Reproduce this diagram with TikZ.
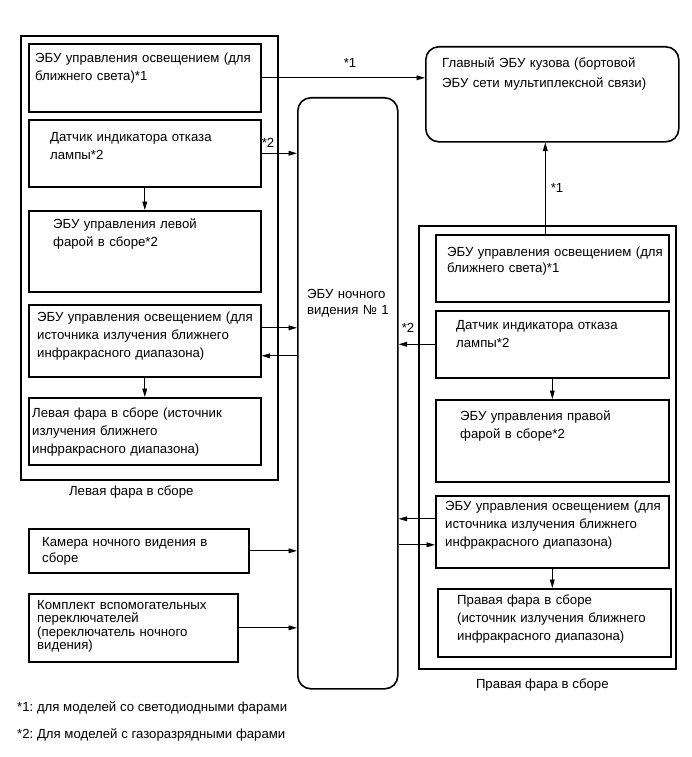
\documentclass[tikz,border=0pt]{standalone}
\usepackage{fontspec}
\setmainfont{Liberation Sans}
\usetikzlibrary{arrows.meta,positioning,calc}
\tikzset{
  frameln/.style={draw, line width=1.6pt, anchor=north west, inner sep=0pt},
  unitbox/.style={draw, line width=1.6pt, anchor=north west, inner sep=0pt},
  ecubox/.style={unitbox, rounded corners=13pt},
  boxtext/.style={anchor=base west, inner sep=0pt, text width=232pt, align=left, font=\boxfont},
  sigln/.style={-{Triangle[length=8.5pt,width=4.8pt]}, line width=0.9pt},
  tagtext/.style={inner sep=0pt, font=\boxfont},
}
\newcommand{\boxfont}{\fontsize{13.2}{18}\selectfont\frenchspacing}
\newcommand{\unitnode}[6]{% name, corner, width, height, text offset, text
  \node[unitbox, minimum width=#3, minimum height=#4] (#1) at (#2) {};
  \node[boxtext] (#1txt) at ([shift={(#5)}]#1.north west) {#6};
}

\begin{document}
\begin{tikzpicture}[x=1pt, y=-1pt]
  \useasboundingbox (0,0) rectangle (691,757);
  % headlamp assemblies
  \node[frameln, minimum width=257pt, minimum height=444pt] (lframe) at (20,35) {};
  \node[frameln, minimum width=257pt, minimum height=443pt] (rframe) at (418,225) {};
  \node[tagtext, below=5pt of lframe, xshift=-18pt] (lframelbl) {Левая фара в сборе};
  \node[tagtext, below=9pt of rframe, xshift=-5pt] (rframelbl) {Правая фара в сборе};
  % left side
  \unitnode{lled}{28,43}{232pt}{68pt}{7,20}{ЭБУ управления освещением (для\\ближнего света)*1}
  \unitnode{lsens}{28,119}{232pt}{67pt}{22,22}{Датчик индикатора отказа\\лампы*2}
  \unitnode{llvl}{28,210}{232pt}{81pt}{25,18.5}{ЭБУ управления левой\\фарой в сборе*2}
  \unitnode{lir}{28,304}{232pt}{72pt}{9,17.5}{ЭБУ управления освещением (для\\источника излучения ближнего\\инфракрасного диапазона)}
  \unitnode{llamp}{28,397}{232pt}{67pt}{4,20.5}{Левая фара в сборе (источник\\излучения ближнего\\инфракрасного диапазона)}
  % right side
  \unitnode{rled}{435,234}{233pt}{67pt}{12,22.5}{ЭБУ управления освещением (для\\[-2pt]ближнего света)*1}
  \unitnode{rsens}{435,310}{233pt}{67pt}{21,19.5}{Датчик индикатора отказа\\лампы*2}
  \unitnode{rlvl}{435,399}{233pt}{82pt}{25,21.5}{ЭБУ управления правой\\фарой в сборе*2}
  \unitnode{rir}{435,495}{233pt}{72pt}{10,15.5}{ЭБУ управления освещением (для\\источника излучения ближнего\\инфракрасного диапазона)}
  \unitnode{rlamp}{437,588}{233pt}{68pt}{20,16.5}{Правая фара в сборе\\(источник излучения ближнего\\инфракрасного диапазона)}
  % inputs
  \unitnode{cam}{28,528}{220pt}{44pt}{14,18.5}{Камера ночного видения в\\[-2.3pt]сборе}
  \unitnode{sw}{28,593}{209pt}{68pt}{9,16.5}{Комплект вспомогательных\\[-4.7pt]переключателей\\[-4.7pt](переключатель ночного\\[-4.7pt]видения)}
  % ECUs
  \node[ecubox, minimum width=100pt, minimum height=591pt] (nv) at (297,97) {};
  \node[boxtext] (nvtxt) at ([shift={(10,201)}]nv.north west) {ЭБУ ночного\\[-2pt]видения № 1};
  \node[ecubox, minimum width=253pt, minimum height=95pt] (body) at (425,46) {};
  \node[boxtext] (bodytxt) at ([shift={(17,21.5)}]body.north west) {Главный ЭБУ кузова (бортовой\\[2pt]ЭБУ сети мультиплексной связи)};
  % signals
  \draw[sigln] (lled.east) -- (lled.east -| body.west);
  \draw[sigln] (lsens.east) -- (lsens.east -| nv.west);
  \draw[sigln] (lsens.south) -- (llvl.north);
  \draw[sigln] ([yshift=13pt]lir.east) -- ([yshift=13pt]lir.east -| nv.west);
  \draw[sigln] ([yshift=-15pt]lir.east -| nv.west) -- ([yshift=-15pt]lir.east);
  \draw[sigln] (lir.south) -- (llamp.north);
  \draw[sigln] (cam.east) -- (cam.east -| nv.west);
  \draw[sigln] (sw.east) -- (sw.east -| nv.west);
  \draw[sigln] ([xshift=-7pt]rled.north) -- ([xshift=-7pt]rled.north |- body.south);
  \draw[sigln] (rsens.west) -- (rsens.west -| nv.east);
  \draw[sigln] (rsens.south) -- (rlvl.north);
  \draw[sigln] ([yshift=13pt]rir.west) -- ([yshift=13pt]rir.west -| nv.east);
  \draw[sigln] ([yshift=-13pt]rir.west -| nv.east) -- ([yshift=-13pt]rir.west);
  \draw[sigln] (rir.south) -- (rir.south |- rlamp.north);
  % tags
  \node[tagtext] (tag1a) at (350,63) {*1};
  \node[tagtext] (tag2a) at (268,143) {*2};
  \node[tagtext] (tag1b) at (557,188) {*1};
  \node[tagtext] (tag2b) at (408,328) {*2};
  % notes
  \node[tagtext, anchor=west] (note1) at (17,708) {*1: для моделей со светодиодными фарами};
  \node[tagtext, anchor=west] (note2) at (17,735) {*2: Для моделей с газоразрядными фарами};
\end{tikzpicture}
\end{document}
